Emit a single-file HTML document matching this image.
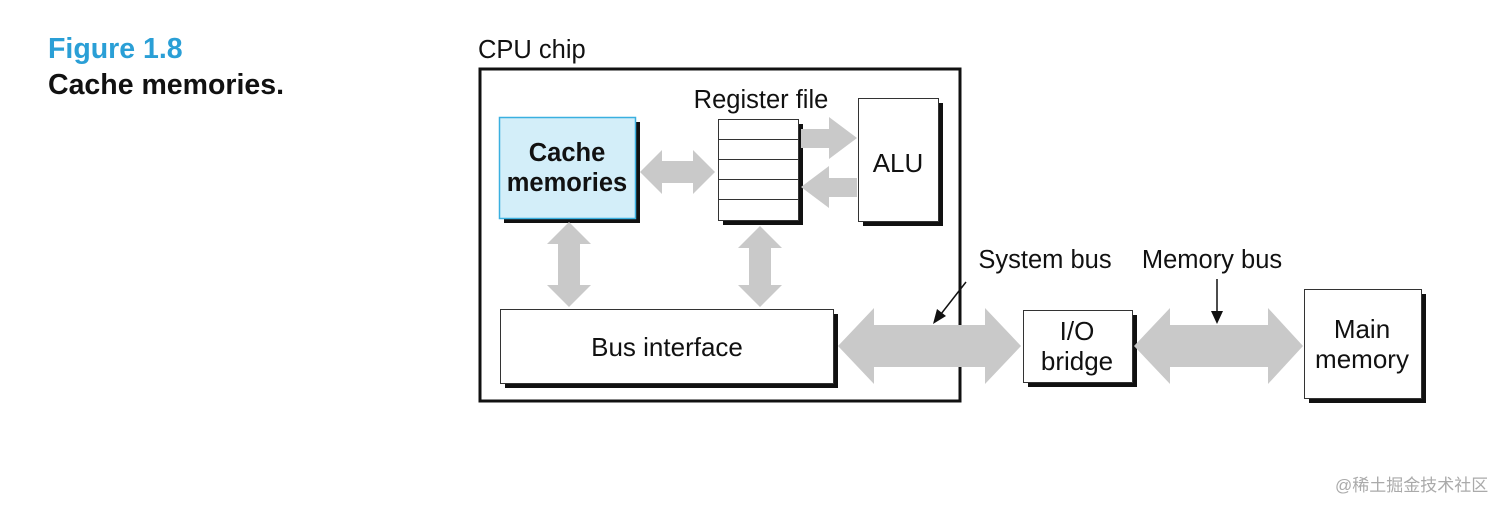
<!DOCTYPE html>
<html><head><meta charset="utf-8"><style>
body{margin:0;width:1512px;height:511px;background:#fff;overflow:hidden}
</style></head><body>
<svg width="1512" height="511" viewBox="0 0 1512 511" xmlns="http://www.w3.org/2000/svg" font-family="Liberation Sans, sans-serif">
<text x="48" y="58" font-size="28.5" font-weight="bold" fill="#2a9fd6">Figure 1.8</text>
<text x="48" y="94" font-size="28.5" font-weight="bold" fill="#111">Cache memories.</text>
<text x="478" y="58" font-size="25.5" fill="#111">CPU chip</text>
<rect x="480" y="69" width="480" height="332" fill="none" stroke="#111" stroke-width="3"/>
<!-- cache -->
<rect x="504" y="122" width="136" height="101" fill="#111"/>
<rect x="499.5" y="117.5" width="136" height="101" fill="#d3eef9" stroke="#3ab0e0" stroke-width="1.5"/>
<text x="567" y="161" font-size="25.5" font-weight="bold" text-anchor="middle" fill="#111">Cache</text>
<text x="567" y="191" font-size="25.5" font-weight="bold" text-anchor="middle" fill="#111">memories</text>
<!-- register -->
<text x="761" y="108" font-size="25.5" text-anchor="middle" fill="#111">Register file</text>
<rect x="723" y="124" width="80" height="101" fill="#111"/>
<rect x="718.5" y="119.5" width="80" height="101" fill="#fff" stroke="#333"/>
<g stroke="#333"><line x1="718" y1="139.5" x2="798" y2="139.5"/><line x1="718" y1="159.5" x2="798" y2="159.5"/><line x1="718" y1="179.5" x2="798" y2="179.5"/><line x1="718" y1="199.5" x2="798" y2="199.5"/></g>
<!-- ALU -->
<rect x="863" y="103" width="80" height="123" fill="#111"/>
<rect x="858.5" y="98.5" width="80" height="123" fill="#fff" stroke="#333"/>
<text x="898" y="172" font-size="26" text-anchor="middle" fill="#111">ALU</text>
<!-- bus interface -->
<rect x="505" y="314" width="333" height="74" fill="#111"/>
<rect x="500.5" y="309.5" width="333" height="74" fill="#fff" stroke="#333"/>
<text x="667" y="356" font-size="26" text-anchor="middle" fill="#111">Bus interface</text>
<!-- I/O bridge -->
<rect x="1028" y="315" width="109" height="72" fill="#111"/>
<rect x="1023.5" y="310.5" width="109" height="72" fill="#fff" stroke="#333"/>
<text x="1077" y="340" font-size="26" text-anchor="middle" fill="#111">I/O</text>
<text x="1077" y="370" font-size="26" text-anchor="middle" fill="#111">bridge</text>
<!-- main memory -->
<rect x="1309" y="294" width="117" height="109" fill="#111"/>
<rect x="1304.5" y="289.5" width="117" height="109" fill="#fff" stroke="#333"/>
<text x="1362" y="338" font-size="26" text-anchor="middle" fill="#111">Main</text>
<text x="1362" y="368" font-size="26" text-anchor="middle" fill="#111">memory</text>
<!-- arrows -->
<g fill="#c9c9c9">
<polygon points="640,172 662,150 662,161 693,161 693,150 715,172 693,194 693,183 662,183 662,194"/>
<polygon points="801,129 829,129 829,117 857,138 829,159 829,148 801,148"/>
<polygon points="857,178 829,178 829,166 801,187 829,208 829,197 857,197"/>
<polygon points="569,222 591,244 580,244 580,285 591,285 569,307 547,285 558,285 558,244 547,244"/>
<polygon points="760,226 782,248 771,248 771,285 782,285 760,307 738,285 749,285 749,248 738,248"/>
<polygon points="838,346 874,308 874,325 985,325 985,308 1021,346 985,384 985,367 874,367 874,384"/>
<polygon points="1134,346 1170,308 1170,325 1268,325 1268,308 1303,346 1268,384 1268,367 1170,367 1170,384"/>
</g>
<text x="1045" y="268" font-size="25.5" text-anchor="middle" fill="#111">System bus</text>
<line x1="966" y1="282" x2="941" y2="314" stroke="#111" stroke-width="1.5"/>
<polygon points="933,324 937,309 946,316" fill="#111"/>
<text x="1212" y="268" font-size="25.5" text-anchor="middle" fill="#111">Memory bus</text>
<line x1="1217" y1="279" x2="1217" y2="312" stroke="#111" stroke-width="1.5"/>
<polygon points="1211,311 1223,311 1217,324" fill="#111"/>
<text x="1335" y="491" font-size="17" fill="#aaa" font-family="Liberation Sans, Noto Sans CJK SC, sans-serif">@稀土掘金技术社区</text>
</svg>
</body></html>
